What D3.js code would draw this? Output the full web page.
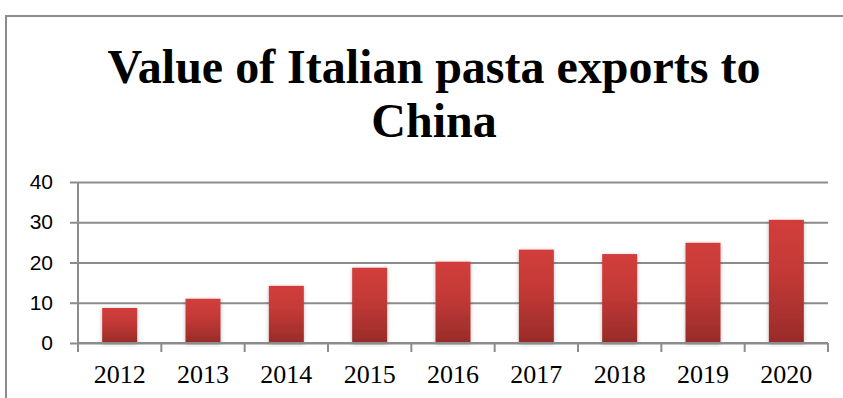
<!DOCTYPE html>
<html>
<head>
<meta charset="utf-8">
<script src="https://cdn.jsdelivr.net/npm/d3@7"></script>
<style>
  html, body { margin: 0; padding: 0; background: #fff; overflow: hidden; }
  svg { display: block; }
</style>
</head>
<body>
<div id="chart"></div>
<script>
const years = ['2012', '2013', '2014', '2015', '2016', '2017', '2018', '2019', '2020'];
const values = [8.7, 11.0, 14.2, 18.7, 20.2, 23.2, 22.1, 24.9, 30.6];
const yTicks = [0, 10, 20, 30, 40];
const titleLines = ['Value of Italian pasta exports to', 'China'];

const width = 843, height = 398;
const margin = {top: 182, right: 15, bottom: 55, left: 78};
const innerW = width - margin.left - margin.right;
const innerH = height - margin.top - margin.bottom;

const svg = d3.select('#chart').append('svg')
  .attr('width', width)
  .attr('height', height);

// outer chart border (only left and top edges show in the frame)
svg.append('rect')
  .attr('x', 6).attr('y', 16)
  .attr('width', width + 20).attr('height', height + 20)
  .attr('fill', 'none')
  .attr('stroke', '#8c8c8c')
  .attr('stroke-width', 2);

const defs = svg.append('defs');
const grad = defs.append('linearGradient')
  .attr('id', 'barGrad')
  .attr('x1', 0).attr('y1', 0).attr('x2', 0).attr('y2', 1);
grad.append('stop').attr('offset', '0%').attr('stop-color', '#d23e3b');
grad.append('stop').attr('offset', '45%').attr('stop-color', '#c23936');
grad.append('stop').attr('offset', '100%').attr('stop-color', '#982b29');

const shadow = defs.append('filter').attr('id', 'shadow')
  .attr('x', '-30%').attr('y', '-10%').attr('width', '160%').attr('height', '130%');
shadow.append('feDropShadow')
  .attr('dx', 0).attr('dy', 1).attr('stdDeviation', 2)
  .attr('flood-color', '#000').attr('flood-opacity', 0.25);

// title
svg.append('text')
  .attr('x', 434)
  .attr('text-anchor', 'middle')
  .style('font-family', '"Liberation Serif", "Times New Roman", serif')
  .style('font-weight', 'bold')
  .style('font-size', '48px')
  .attr('fill', '#000')
  .selectAll('tspan')
  .data(titleLines)
  .join('tspan')
  .attr('x', 434)
  .attr('y', (d, i) => 83 + i * 54)
  .text(d => d);

const plot = svg.append('g').attr('transform', `translate(${margin.left},${margin.top})`);

const x = d3.scaleBand().domain(years).range([0, innerW]).paddingInner(0.58).paddingOuter(0.29);
const xEdge = d3.scaleBand().domain(years).range([0, innerW]).padding(0);
const y = d3.scaleLinear().domain([0, 40]).range([innerH, 0]);

// gridlines + y ticks
const yAxis = plot.append('g')
  .call(d3.axisLeft(y).tickValues(yTicks).tickSize(-innerW).tickSizeOuter(0).tickPadding(25));
yAxis.select('.domain').remove();
yAxis.selectAll('.tick line')
  .attr('x1', -8)
  .attr('stroke', '#8c8c8c')
  .attr('stroke-width', 2);
yAxis.selectAll('.tick text')
  .style('font-family', '"Liberation Sans", Arial, sans-serif')
  .style('font-size', '21px')
  .attr('fill', '#000');

// bars
plot.selectAll('.bar')
  .data(values)
  .join('rect')
  .attr('class', 'bar')
  .attr('x', (d, i) => x(years[i]))
  .attr('y', d => y(d))
  .attr('width', x.bandwidth())
  .attr('height', d => innerH - y(d))
  .attr('fill', 'url(#barGrad)')
  .attr('filter', 'url(#shadow)');

// x axis line with ticks between categories
const xAxisG = plot.append('g').attr('transform', `translate(0,${innerH})`);
xAxisG.append('line')
  .attr('x1', 0).attr('x2', innerW)
  .attr('stroke', '#8c8c8c').attr('stroke-width', 2);
const edges = years.map(d => xEdge(d)).concat([innerW]);
xAxisG.selectAll('.xtick')
  .data(edges)
  .join('line')
  .attr('class', 'xtick')
  .attr('x1', d => d).attr('x2', d => d)
  .attr('y1', 0).attr('y2', 9)
  .attr('stroke', '#8c8c8c').attr('stroke-width', 2);
xAxisG.selectAll('.xlabel')
  .data(years)
  .join('text')
  .attr('class', 'xlabel')
  .attr('x', d => xEdge(d) + xEdge.bandwidth() / 2)
  .attr('y', 40)
  .attr('text-anchor', 'middle')
  .style('font-family', '"Liberation Serif", "Times New Roman", serif')
  .style('font-size', '26px')
  .attr('fill', '#000')
  .text(d => d);

// y axis line
plot.append('line')
  .attr('x1', 0).attr('x2', 0)
  .attr('y1', 0).attr('y2', innerH + 9)
  .attr('stroke', '#8c8c8c').attr('stroke-width', 2);
</script>
</body>
</html>
